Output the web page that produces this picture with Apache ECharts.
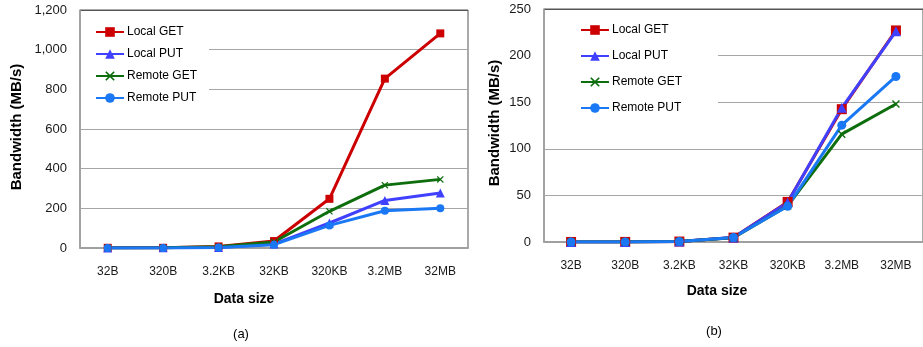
<!DOCTYPE html>
<html>
<head>
<meta charset="utf-8">
<script src="https://cdn.jsdelivr.net/npm/echarts@6/dist/echarts.min.js"></script>
<style>
html,body{margin:0;padding:0;background:#fff;}
#c{width:923px;height:347px;}
</style>
</head>
<body>
<div id="c"></div>
<script>
var categories = ['32B','320B','3.2KB','32KB','320KB','3.2MB','32MB'];
var seriesNames = ['Local GET','Local PUT','Remote GET','Remote PUT'];

// Chart (a)
var aLocalGet  = [1, 1, 8, 35, 248, 854, 1082];
var aLocalPut  = [0.5, 0.8, 3, 20, 126, 240, 277];
var aRemoteGet = [0.5, 1, 6, 30, 185, 317, 346];
var aRemotePut = [0.3, 0.6, 3, 17, 114, 188, 201];
var aTicks = [0, 200, 400, 600, 800, 1000, 1200];

// Chart (b)
var bLocalGet  = [0.05, 0.1, 0.5, 4.7, 43, 142.5, 227];
var bLocalPut  = [0.05, 0.1, 0.5, 4.8, 42.5, 144, 226];
var bRemoteGet = [0.05, 0.1, 0.5, 4.5, 38.7, 115.7, 148];
var bRemotePut = [0.05, 0.1, 0.5, 4.8, 38.3, 125.4, 177.6];
var bTicks = [0, 50, 100, 150, 200, 250];

var colors = ['#CC0000', '#4040FF', '#0E6E0E', '#1A78F5'];
var xSymbol = 'path://M0,1.2L1.2,0L5,3.8L8.8,0L10,1.2L6.2,5L10,8.8L8.8,10L5,6.2L1.2,10L0,8.8L3.8,5Z';
var symbols = ['rect', 'triangle', xSymbol, 'circle'];
var font = 'Liberation Sans, Arial, sans-serif';

function mk(name, data, idx, gi, sizes, lw) {
  return {
    name: name, type: 'line', xAxisIndex: gi, yAxisIndex: gi,
    data: data, symbol: symbols[idx], symbolSize: sizes[idx],
    showSymbol: true, animation: false,
    lineStyle: {color: colors[idx], width: lw},
    itemStyle: {color: colors[idx], borderWidth: 0},
    emphasis: {disabled: true}
  };
}

var aData = [aLocalGet, aLocalPut, aRemoteGet, aRemotePut];
var bData = [bLocalGet, bLocalPut, bRemoteGet, bRemotePut];
var series = [];
for (var i = 0; i < 4; i++) series.push(mk(seriesNames[i], aData[i], i, 0, [8, 9, 7, 8], 3));
for (var j = 0; j < 4; j++) series.push(mk(seriesNames[j], bData[j], j, 1, [10, 10, 8, 9], 3));

function yAxis(gi, ticks) {
  var cols = ticks.map(function (t, k) { return k === ticks.length - 1 ? '#555' : '#A6A6A6'; });
  return {
    type: 'value', gridIndex: gi, min: ticks[0], max: ticks[ticks.length - 1],
    interval: ticks[1] - ticks[0],
    axisLine: {show: true, lineStyle: {color: '#A0A0A0', width: 1.5}},
    axisTick: {show: false},
    splitLine: {show: true, lineStyle: {color: cols, width: 1.2}},
    axisLabel: {color: '#1a1a1a', fontFamily: font, fontSize: 13, margin: 13,
      formatter: function (v) { return v.toLocaleString('en-US'); }}
  };
}
function xAxis(gi) {
  return {
    type: 'category', gridIndex: gi, data: categories, boundaryGap: true,
    axisLine: {show: true, onZero: false, lineStyle: {color: '#A0A0A0', width: 2}},
    axisTick: {show: false},
    axisLabel: {color: '#1a1a1a', fontFamily: font, fontSize: 12, margin: 18}
  };
}
function legend(left, top, pad, gap) {
  return {
    orient: 'vertical', left: left, top: top, data: seriesNames,
    backgroundColor: '#fff', padding: pad, itemGap: gap,
    itemWidth: 28, itemHeight: 12,
    textStyle: {color: '#000', fontFamily: font, fontSize: 12, padding: [0, 0, 0, -2]},
    selectedMode: false
  };
}

var chart = echarts.init(document.getElementById('c'));
chart.setOption({
  animation: false,
  backgroundColor: '#fff',
  grid: [
    {left: 80, top: 10, width: 388, height: 238, show: true, borderColor: '#555', borderWidth: 1, backgroundColor: 'transparent'},
    {left: 544, top: 9, width: 388, height: 233, show: true, borderColor: '#555', borderWidth: 1, backgroundColor: 'transparent'}
  ],
  xAxis: [xAxis(0), xAxis(1)],
  yAxis: [yAxis(0, aTicks), yAxis(1, bTicks)],
  legend: [legend(81, 12, [14, 12, 8, 14], 10), legend(545, 10, [14, 36, 8, 35], 14)],
  series: series,
  graphic: [
    {type: 'text', x: 17, y: 127, rotation: Math.PI / 2,
      style: {text: 'Bandwidth (MB/s)', font: 'bold 15px ' + font, fill: '#000', textAlign: 'center', textVerticalAlign: 'middle'}},
    {type: 'text', x: 495, y: 123, rotation: Math.PI / 2,
      style: {text: 'Bandwidth (MB/s)', font: 'bold 15px ' + font, fill: '#000', textAlign: 'center', textVerticalAlign: 'middle'}},
    {type: 'text', x: 244, y: 299,
      style: {text: 'Data size', font: 'bold 14px ' + font, fill: '#000', textAlign: 'center', textVerticalAlign: 'middle'}},
    {type: 'text', x: 717, y: 291,
      style: {text: 'Data size', font: 'bold 14px ' + font, fill: '#000', textAlign: 'center', textVerticalAlign: 'middle'}},
    {type: 'text', x: 241, y: 334,
      style: {text: '(a)', font: '13px ' + font, fill: '#000', textAlign: 'center', textVerticalAlign: 'middle'}},
    {type: 'text', x: 714, y: 331,
      style: {text: '(b)', font: '13px ' + font, fill: '#000', textAlign: 'center', textVerticalAlign: 'middle'}}
  ]
});
</script>
</body>
</html>
